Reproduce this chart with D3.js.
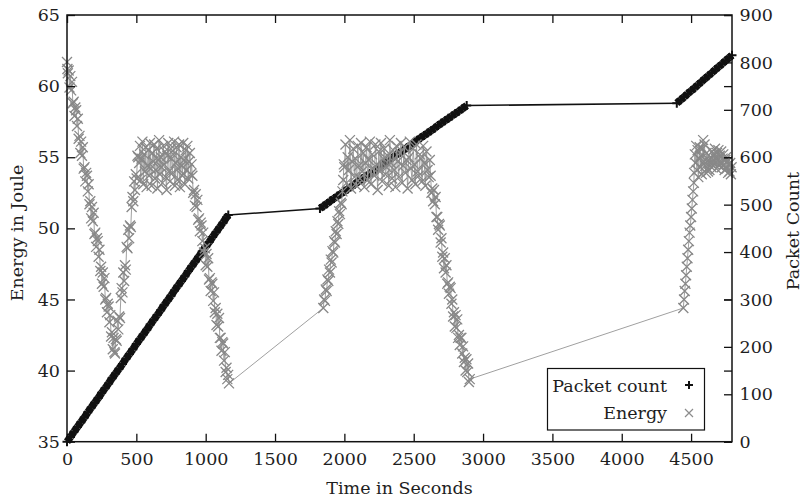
<!DOCTYPE html>
<html><head><meta charset="utf-8">
<script src="https://cdn.jsdelivr.net/npm/d3@7"></script>
<style>body{margin:0;background:#fff} svg{display:block}</style>
</head><body><svg id="chart" width="803" height="500"></svg>
<script>
// ---- tick values ----
const xTicks = [0,500,1000,1500,2000,2500,3000,3500,4000,4500];
const energyTicks = [35,40,45,50,55,60,65];
const packetTicks = [0,100,200,300,400,500,600,700,800,900];

// ---- Packet count series: [time s, packets] ----
const packetRise1 = [[0,0],[25,10],[50,21],[75,31],[100,41],[125,51],[150,62],[175,72],[200,82],[225,92],[250,103],[275,113],[300,123],[325,134],[350,144],[375,154],[400,164],[425,175],[450,185],[475,195],[500,206],[525,216],[550,226],[575,236],[600,247],[625,257],[650,267],[675,277],[700,288],[725,298],[750,308],[775,319],[800,329],[825,339],[850,349],[875,360],[900,370],[925,380],[950,390],[975,401],[1000,411],[1025,421],[1050,432],[1075,442],[1100,452],[1125,462],[1150,473],[1163,478]];
const packetRise2 = [[1824,492],[1850,497],[1875,502],[1900,508],[1925,513],[1950,518],[1975,523],[2000,528],[2025,533],[2050,538],[2075,543],[2100,549],[2125,554],[2150,559],[2175,564],[2200,569],[2225,574],[2250,579],[2275,584],[2300,590],[2325,595],[2350,600],[2375,605],[2400,610],[2425,615],[2450,620],[2475,625],[2500,631],[2525,636],[2550,641],[2575,646],[2600,651],[2625,656],[2650,661],[2675,667],[2700,672],[2725,677],[2750,682],[2775,687],[2800,692],[2825,697],[2850,702],[2882,709]];
const packetRise3 = [[4397,714],[4425,721],[4450,727],[4475,734],[4500,740],[4525,746],[4550,753],[4575,759],[4600,766],[4625,772],[4650,778],[4675,785],[4700,791],[4725,797],[4750,804],[4775,810],[4795,815]];

// ---- Energy series: [time s, joule] ----
const energyDescent1 = [[0,61.7],[3,61.2],[6,60.9],[12,61.1],[18,59.9],[24,60.7],[30,59.7],[36,60.3],[42,58.8],[48,58.9],[54,57.9],[60,58.5],[66,58.3],[72,57.2],[78,57.7],[84,56.3],[90,56.5],[96,55.3],[102,56.1],[108,55.1],[114,55.7],[120,54.2],[126,54.3],[132,53.3],[138,53.9],[144,53.7],[150,52.6],[156,53.1],[162,51.7],[168,51.9],[174,50.7],[180,51.5],[186,50.5],[192,51.1],[198,49.6],[204,49.7],[210,48.7],[216,49.3],[222,49.1],[228,48.0],[234,48.5],[240,47.0],[246,47.3],[252,46.1],[258,46.9],[264,45.9],[270,46.5],[276,45.0],[282,45.1],[288,44.1],[294,44.7],[300,44.5],[306,43.4],[312,43.9],[318,42.4],[324,42.7],[330,41.5],[336,42.3],[342,41.3],[346,41.2]];
const energyRise1 = [[352,42.2],[358,42.1],[364,43.5],[370,42.9],[376,43.8],[382,43.7],[388,45.1],[394,45.8],[400,45.5],[406,46.9],[412,46.3],[418,47.4],[424,47.1],[430,48.7],[436,48.6],[442,49.9],[448,49.3],[454,50.2],[460,50.1],[466,51.5],[472,52.2],[478,51.9],[484,53.3],[490,52.7],[496,53.8],[502,53.5],[508,55.1],[514,55.0]];
const energyPlateau1 = [[520,54.6],[526,55.8],[532,53.4],[538,54.9],[544,56.1],[550,53.1],[556,55.2],[562,54.0],[568,55.7],[574,52.9],[580,54.4],[586,55.5],[592,53.7],[598,56.0],[604,54.2],[610,53.0],[616,55.3],[622,54.7],[628,55.9],[634,53.5],[640,54.1],[646,55.6],[652,52.8],[658,54.8],[664,56.2],[670,53.8],[676,55.0],[682,54.3],[688,53.2],[694,55.8],[700,54.5],[706,55.4],[712,53.6],[718,52.7],[724,55.1],[730,56.0],[736,54.0],[742,53.3],[748,55.6],[754,54.9],[760,53.9],[766,55.2],[772,56.1],[778,53.0],[784,54.6],[790,55.7],[796,53.4],[802,54.2],[808,55.9],[814,52.9],[820,55.0],[826,54.4],[832,53.7],[838,56.0],[844,54.8],[850,53.1],[856,55.5],[862,54.1],[868,55.8],[874,53.5],[880,54.7],[886,55.3],[892,53.8],[898,54.5]];
const energyDescent2 = [[904,53.7],[910,52.5],[916,52.7],[922,51.6],[928,52.4],[934,51.5],[940,52.0],[946,50.6],[952,50.7],[958,49.8],[964,50.4],[970,50.2],[976,49.1],[982,49.7],[988,48.3],[994,48.6],[1000,47.4],[1006,48.2],[1012,47.3],[1018,47.9],[1024,46.4],[1030,46.5],[1036,45.6],[1042,46.2],[1048,46.1],[1054,44.9],[1060,45.5],[1066,44.1],[1072,44.4],[1078,43.2],[1084,44.0],[1090,43.1],[1096,43.7],[1102,42.3],[1108,42.3],[1114,41.4],[1120,42.0],[1126,41.9],[1132,40.7],[1138,41.3],[1144,39.9],[1150,40.2],[1156,39.4],[1162,39.7],[1168,39.1]];
const energyRise2 = [[1848,44.4],[1854,45.0],[1860,44.9],[1866,45.7],[1872,45.6],[1878,46.4],[1884,46.3],[1890,47.1],[1896,46.9],[1902,47.8],[1908,47.6],[1914,48.4],[1920,48.3],[1926,49.1],[1932,49.0],[1938,49.8],[1944,49.6],[1950,50.5],[1956,50.3],[1962,51.2],[1968,51.0],[1974,51.8],[1980,51.7],[1986,52.6],[1992,53.4],[1996,54.5]];
const energyPlateau2 = [[2000,54.3],[2008,55.9],[2016,53.2],[2024,55.0],[2032,54.1],[2040,56.2],[2048,52.8],[2056,54.7],[2064,55.6],[2072,53.6],[2080,54.9],[2088,53.0],[2096,55.8],[2104,54.4],[2112,53.5],[2120,56.0],[2128,54.0],[2136,55.3],[2144,52.9],[2152,54.6],[2160,55.7],[2168,53.4],[2176,54.8],[2184,56.1],[2192,53.1],[2200,55.2],[2208,54.2],[2216,53.7],[2224,55.9],[2232,54.5],[2240,52.7],[2248,55.4],[2256,54.0],[2264,56.0],[2272,53.3],[2280,54.9],[2288,55.6],[2296,53.8],[2304,54.3],[2312,55.1],[2320,53.0],[2328,56.2],[2336,54.6],[2344,53.5],[2352,55.5],[2360,54.1],[2368,52.9],[2376,55.8],[2384,54.7],[2392,53.6],[2400,55.3],[2408,56.0],[2416,53.2],[2424,54.4],[2432,55.7],[2440,53.9],[2448,54.8],[2456,52.8],[2464,55.0],[2472,56.1],[2480,54.2],[2488,53.4],[2496,55.6],[2504,54.5],[2512,53.1],[2520,55.9],[2528,54.0],[2536,53.7],[2544,55.2],[2552,54.9],[2560,53.3],[2568,55.8],[2576,54.6],[2584,53.0],[2592,55.4],[2600,54.1],[2608,53.6],[2616,54.8]];
const energyDescent3 = [[2622,53.7],[2628,52.5],[2634,52.8],[2640,51.9],[2646,52.7],[2652,51.7],[2658,52.2],[2664,50.8],[2670,50.8],[2676,49.9],[2682,50.3],[2688,50.2],[2694,49.0],[2700,49.3],[2706,48.0],[2712,48.3],[2718,47.2],[2724,47.9],[2730,46.9],[2736,47.4],[2742,46.1],[2748,46.2],[2754,45.4],[2760,45.9],[2766,45.8],[2772,44.7],[2778,45.0],[2784,43.8],[2790,44.1],[2796,43.1],[2802,43.9],[2808,43.0],[2814,43.6],[2820,42.3],[2826,42.5],[2832,41.8],[2838,42.3],[2844,42.3],[2850,41.2],[2856,41.7],[2862,40.6],[2868,40.9],[2874,40.0],[2880,40.8],[2886,39.9],[2892,40.5],[2898,39.2],[2904,39.4]];
const energyRise3 = [[4444,44.4],[4449,45.0],[4454,45.6],[4459,46.1],[4464,46.7],[4469,47.3],[4474,47.9],[4479,48.5],[4484,49.1],[4489,49.7],[4494,50.2],[4500,50.8],[4505,51.4],[4510,52.0],[4515,52.6],[4520,53.2]];
const energyPlateau3 = [[4522,53.9],[4527,55.2],[4532,54.6],[4537,55.8],[4542,54.1],[4547,55.5],[4552,53.6],[4557,54.9],[4562,55.7],[4567,54.3],[4572,55.1],[4577,53.8],[4582,55.6],[4587,56.2],[4592,54.7],[4597,55.9],[4602,54.4],[4607,53.9],[4612,55.3],[4617,54.2],[4622,54.0],[4627,54.8],[4632,54.1],[4637,54.6],[4642,55.0],[4647,54.3],[4652,55.4],[4657,54.7],[4662,55.2],[4667,54.5],[4672,55.6],[4677,54.9],[4682,54.2],[4687,55.3],[4692,54.8],[4697,55.5],[4702,54.4],[4707,55.1],[4712,54.6],[4717,55.4],[4722,54.3],[4727,54.9],[4732,55.2],[4737,54.5],[4742,54.1],[4747,54.8],[4752,55.0],[4757,54.2],[4762,54.7],[4767,53.9],[4772,54.5],[4777,54.0],[4782,54.6],[4787,53.8],[4792,54.3]];

const packetData = [].concat(packetRise1, packetRise2, packetRise3);
const energyData = [].concat(energyDescent1, energyRise1, energyPlateau1, energyDescent2,
  energyRise2, energyPlateau2, energyDescent3, energyRise3, energyPlateau3);

// ---- layout ----
const L = 67, R = 732, T = 15, B = 441.7;
const FONT = "DejaVu Serif", FS = 17.5, TXT = "#1e1e1e";
const svg = d3.select("#chart");
const x = d3.scaleLinear().domain([0, 4795]).range([L, R]);
const yE = d3.scaleLinear().domain([35, 65]).range([B, T]);
const yP = d3.scaleLinear().domain([0, 900]).range([B, T]);
const fmt = d3.format("d");

function styleAxis(g, labels) {
  g.select(".domain").remove();
  g.selectAll(".tick line").attr("stroke", "#111").attr("stroke-width", 1.3);
  g.selectAll("text").attr("font-family", FONT).attr("font-size", FS).attr("fill", TXT);
  if (!labels) g.selectAll("text").remove();
}

// packet count (drawn first)
const gP = svg.append("g");
for (let i = 1; i < packetData.length; i++) {
  const a = packetData[i - 1], b = packetData[i];
  gP.append("line")
    .attr("x1", x(a[0])).attr("y1", yP(a[1]))
    .attr("x2", x(b[0])).attr("y2", yP(b[1]))
    .attr("stroke", "#111").attr("stroke-linecap", "butt")
    .attr("stroke-width", (b[0] - a[0]) <= 40 ? 7.5 : 1.6);
}
gP.selectAll("path.plus").data(packetData).join("path")
  .attr("class", "plus")
  .attr("transform", d => `translate(${x(d[0])},${yP(d[1])})`)
  .attr("d", "M-4.5,0H4.5M0,-4.5V4.5")
  .attr("stroke", "#111").attr("stroke-width", 2).attr("fill", "none");

// energy (drawn on top)
const gE = svg.append("g");
gE.append("path").datum(energyData)
  .attr("d", d3.line().x(d => x(d[0])).y(d => yE(d[1])))
  .attr("fill", "none").attr("stroke", "#a0a0a0").attr("stroke-width", 1);
gE.selectAll("path.cross").data(energyData).join("path")
  .attr("class", "cross")
  .attr("transform", d => `translate(${x(d[0])},${yE(d[1])})`)
  .attr("d", "M-5,-5L5,5M-5,5L5,-5")
  .attr("stroke", "#888").attr("stroke-width", 1.3).attr("fill", "none");

// axes (ticks inward)
svg.append("g").attr("transform", `translate(0,${B})`)
  .call(d3.axisBottom(x).tickValues(xTicks).tickFormat(fmt).tickSize(-8).tickSizeOuter(0).tickPadding(11))
  .call(g => styleAxis(g, true));
svg.append("g").attr("transform", `translate(0,${T})`)
  .call(d3.axisTop(x).tickValues(xTicks).tickSize(-8).tickSizeOuter(0))
  .call(g => styleAxis(g, false));
svg.append("g").attr("transform", `translate(${L},0)`)
  .call(d3.axisLeft(yE).tickValues(energyTicks).tickFormat(fmt).tickSize(-8).tickSizeOuter(0).tickPadding(7))
  .call(g => styleAxis(g, true));
svg.append("g").attr("transform", `translate(${R},0)`)
  .call(d3.axisRight(yE).tickValues(energyTicks).tickSize(-8).tickSizeOuter(0))
  .call(g => styleAxis(g, false));
svg.append("g").attr("transform", `translate(${R},0)`)
  .call(d3.axisRight(yP).tickValues(packetTicks).tickFormat(fmt).tickSize(-8).tickSizeOuter(0).tickPadding(7.5))
  .call(g => styleAxis(g, true));

// frame
svg.append("rect").attr("x", L).attr("y", T).attr("width", R - L).attr("height", B - T)
  .attr("fill", "none").attr("stroke", "#111").attr("stroke-width", 1.5);

// axis titles
svg.append("text").attr("x", (L + R) / 2).attr("y", 494).attr("text-anchor", "middle")
  .attr("font-family", FONT).attr("font-size", FS).attr("fill", TXT).text("Time in Seconds");
svg.append("text").attr("transform", "translate(23,233) rotate(-90)").attr("text-anchor", "middle")
  .attr("font-family", FONT).attr("font-size", FS).attr("fill", TXT).text("Energy in Joule");
svg.append("text").attr("transform", "translate(799,231) rotate(-90)").attr("text-anchor", "middle")
  .attr("font-family", FONT).attr("font-size", FS).attr("fill", TXT).text("Packet Count");

// legend
const lg = svg.append("g");
lg.append("rect").attr("x", 547.5).attr("y", 368.5).attr("width", 157).attr("height", 61.5)
  .attr("fill", "#fff").attr("stroke", "#111").attr("stroke-width", 1.2);
lg.append("text").attr("x", 667).attr("y", 391.5).attr("text-anchor", "end")
  .attr("font-family", FONT).attr("font-size", FS).attr("fill", TXT).text("Packet count");
lg.append("text").attr("x", 667).attr("y", 419).attr("text-anchor", "end")
  .attr("font-family", FONT).attr("font-size", FS).attr("fill", TXT).text("Energy");
lg.append("path").attr("transform", "translate(689,385)").attr("d", "M-4,0H4M0,-4V4")
  .attr("stroke", "#111").attr("stroke-width", 2).attr("fill", "none");
lg.append("path").attr("transform", "translate(689,413)").attr("d", "M-4,-4L4,4M-4,4L4,-4")
  .attr("stroke", "#8c8c8c").attr("stroke-width", 1.2).attr("fill", "none");
</script></body></html>
